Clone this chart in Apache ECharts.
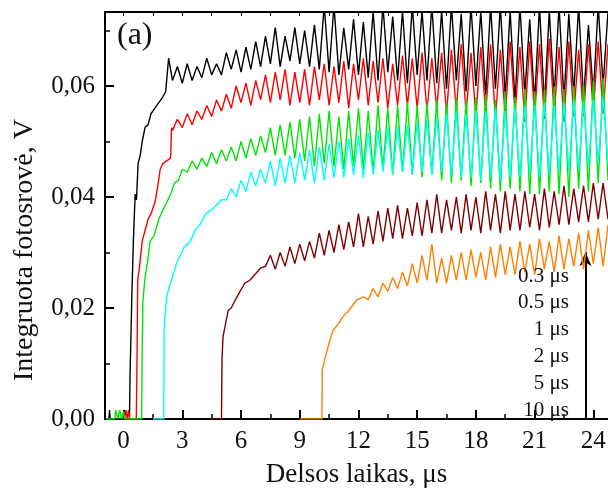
<!DOCTYPE html>
<html>
<head>
<meta charset="utf-8">
<script src="https://cdn.jsdelivr.net/npm/echarts@6/dist/echarts.min.js"></script>
<style>html,body{margin:0;padding:0;background:#fff}#c{width:608px;height:491px}</style>
</head>
<body>
<div id="c"></div>
<script>
// ---- data ----
const seriesNames = ['0.3 μs','0.5 μs','1 μs','2 μs','5 μs','10 μs'];
const xTickLabels = [0,3,6,9,12,15,18,21,24];
const yTickLabels = [0,0.02,0.04,0.06];
const gridStep = 0.25;

// 0.3 us (black)
const onset03 = [[-0.9,0],[-0.75,0],[-0.72,0.0016],[-0.68,0],[0.3,0],[0.33,0.008],[0.36,0.0124],[0.42,0.022],[0.5,0.032],[0.59,0.0405],[0.66,0.0395],[0.74,0.046],[0.85,0.0475],[0.95,0.050],[1.1,0.0526],[1.25,0.053],[1.4,0.055],[1.6,0.056],[1.8,0.057],[2.0,0.058],[2.15,0.059],[2.25,0.063],[2.3,0.065]];
const start03 = 2.5;
const vals03 = [0.061,0.0635,0.0605,0.064,0.061,0.0635,0.0615,0.065,0.062,0.064,0.062,0.066,0.063,0.0665,0.0625,0.067,0.063,0.068,0.0635,0.069,0.064,0.0705,0.0635,0.069,0.0645,0.0705,0.064,0.070,0.0635,0.071,0.063,0.0745,0.0625,0.0745,0.062,0.0705,0.063,0.072,0.062,0.0715,0.0615,0.0735,0.061,0.0745,0.0625,0.0725,0.061,0.0735,0.0605,0.0745,0.062,0.0735,0.061,0.0745,0.0605,0.0735,0.0595,0.0745,0.061,0.073,0.059,0.0745,0.060,0.0735,0.058,0.0745,0.0595,0.0745,0.058,0.0735,0.057,0.0745,0.0585,0.072,0.057,0.0745,0.0565,0.0735,0.058,0.0745,0.0575,0.073,0.0585,0.0745,0.0575,0.071,0.0585,0.0745,0.060,0.0735];

// 0.5 us (red)
const onset05 = [[0.05,0],[0.12,0.0016],[0.18,0],[0.25,0.0016],[0.3,0],[0.65,0],[0.69,0.012],[0.72,0.025],[0.8,0.027],[0.95,0.032],[1.1,0.034],[1.25,0.036],[1.4,0.037],[1.6,0.039],[1.75,0.042],[1.87,0.045],[2.0,0.046],[2.2,0.0465],[2.4,0.047],[2.45,0.0525]];
const start05 = 2.5;
const vals05 = [0.052,0.054,0.0525,0.055,0.053,0.0555,0.054,0.0565,0.0545,0.0575,0.0555,0.0585,0.056,0.060,0.057,0.0605,0.0565,0.061,0.0575,0.062,0.057,0.0625,0.0575,0.063,0.0565,0.0625,0.057,0.063,0.0565,0.0635,0.0575,0.064,0.0565,0.0635,0.057,0.0645,0.056,0.064,0.0575,0.065,0.0565,0.0645,0.057,0.065,0.056,0.064,0.0565,0.0655,0.0565,0.065,0.056,0.066,0.0555,0.065,0.056,0.066,0.055,0.0665,0.0555,0.0675,0.055,0.066,0.0545,0.067,0.055,0.0675,0.054,0.0665,0.0545,0.068,0.055,0.067,0.0535,0.068,0.0545,0.0675,0.054,0.0685,0.055,0.067,0.0535,0.068,0.0545,0.0665,0.0545,0.0675,0.0555,0.068,0.055,0.0675];

// 1 us (green)
const onset1 = [[-0.9,0],[-0.45,0],[-0.4,0.0016],[-0.3,0],[-0.2,0.0016],[-0.1,0],[0.0,0.0014],[0.05,0],[0.92,0],[0.95,0.012],[0.98,0.021],[1.1,0.0256],[1.25,0.029],[1.35,0.032],[1.55,0.033],[1.8,0.036],[2.0,0.0376],[2.2,0.039],[2.4,0.0405],[2.6,0.0425],[2.8,0.043],[3.0,0.045]];
const start1 = 3.25;
const vals1 = [0.0445,0.0465,0.045,0.047,0.0455,0.048,0.046,0.0485,0.0465,0.049,0.0465,0.050,0.047,0.0505,0.0475,0.051,0.048,0.0525,0.0475,0.053,0.0475,0.0535,0.047,0.054,0.0465,0.0545,0.0455,0.055,0.046,0.0555,0.0455,0.0545,0.045,0.0555,0.0455,0.056,0.045,0.0555,0.0445,0.0565,0.045,0.056,0.044,0.0565,0.0445,0.057,0.044,0.0565,0.0435,0.057,0.044,0.0575,0.043,0.057,0.0425,0.058,0.043,0.0575,0.042,0.058,0.0425,0.0585,0.0415,0.0575,0.041,0.059,0.0415,0.058,0.041,0.0595,0.0405,0.059,0.0405,0.0595,0.041,0.060,0.0405,0.0595,0.040,0.060,0.0415,0.0605,0.041,0.061,0.0425,0.0615,0.043];

// 2 us (cyan)
const onset2 = [[1.5,0],[2.05,0],[2.07,0.0166],[2.2,0.022],[2.35,0.024],[2.5,0.0256],[2.7,0.028],[2.9,0.0295],[3.1,0.031],[3.4,0.032],[3.65,0.034],[3.9,0.035],[4.2,0.037],[4.6,0.038],[5.0,0.0395]];
const start2 = 5.25;
const vals2 = [0.0395,0.0415,0.040,0.043,0.041,0.0445,0.042,0.045,0.0425,0.0465,0.042,0.047,0.0425,0.0475,0.0425,0.048,0.043,0.0485,0.0425,0.049,0.043,0.0495,0.0435,0.050,0.0435,0.0505,0.044,0.051,0.0435,0.0515,0.044,0.052,0.0445,0.0525,0.044,0.0525,0.0445,0.053,0.044,0.0535,0.0445,0.054,0.044,0.0545,0.0445,0.055,0.044,0.0555,0.0435,0.055,0.0435,0.0555,0.043,0.0555,0.0435,0.056,0.043,0.0555,0.0435,0.056,0.0435,0.0565,0.044,0.0565,0.0435,0.057,0.044,0.0565,0.0445,0.057,0.0445,0.0575,0.045,0.057,0.0455,0.0575,0.046,0.058,0.046];

// 5 us (dark red)
const onset5 = [[4.4,0],[5.0,0],[5.03,0.011],[5.08,0.0148],[5.2,0.017],[5.35,0.0196],[5.5,0.020],[5.7,0.0214],[5.95,0.023],[6.2,0.0245],[6.45,0.025],[6.7,0.026],[7.0,0.0272]];
const start5 = 7.25;
const vals5 = [0.0275,0.0295,0.027,0.030,0.0275,0.031,0.028,0.0315,0.0285,0.032,0.029,0.0335,0.0295,0.034,0.030,0.035,0.0305,0.0355,0.031,0.037,0.031,0.0365,0.0315,0.0375,0.032,0.038,0.0325,0.0385,0.0325,0.038,0.033,0.039,0.033,0.0395,0.0335,0.0405,0.0335,0.0395,0.034,0.040,0.0335,0.0405,0.034,0.040,0.0335,0.041,0.034,0.0405,0.0335,0.041,0.034,0.0405,0.034,0.041,0.0345,0.0405,0.034,0.0415,0.0345,0.041,0.035,0.042,0.035,0.0415,0.0355,0.042,0.0355,0.0425,0.036,0.0425,0.036];

// 10 us (orange)
const onset10 = [[9.0,0],[10.13,0],[10.15,0.0088],[10.3,0.011],[10.5,0.0137],[10.7,0.016],[10.95,0.017],[11.2,0.0184],[11.5,0.0195],[11.9,0.0214],[12.25,0.022]];
const start10 = 12.5;
const vals10 = [0.0215,0.0235,0.022,0.0245,0.023,0.0255,0.0235,0.0265,0.024,0.028,0.0245,0.0295,0.025,0.0315,0.0245,0.029,0.0245,0.0295,0.025,0.030,0.025,0.0305,0.0255,0.030,0.025,0.031,0.0255,0.0315,0.026,0.031,0.026,0.032,0.0265,0.0315,0.026,0.0325,0.027,0.032,0.0265,0.033,0.027,0.0325,0.0275,0.0335,0.027,0.034,0.028,0.0345,0.0275,0.035];

const arrowX = 23.6, arrowTop = 0.0301;

// ---- build ----
function build(onset, t0, vals){
  return onset.concat(vals.map((v,i)=>[t0 + i*gridStep, v]));
}
const colors = ['#000000','#ff0000','#00e600','#00ffff','#7f0000','#ff8000'];
const dataSets = [
  build(onset03,start03,vals03),
  build(onset05,start05,vals05),
  build(onset1,start1,vals1),
  build(onset2,start2,vals2),
  build(onset5,start5,vals5),
  build(onset10,start10,vals10)
];
const FONT = "'Liberation Serif','Times New Roman',serif";
const XMIN = -0.95, XMAX = 24.75, YMIN = 0, YMAX = 0.07333;
const minorX = []; for (let t=1.5; t<24.75; t+=3) minorX.push(t);
const topX = []; for (let t=0; t<=24.75; t+=1.5) topX.push(t);
const minorY = [0.01,0.03,0.05,0.07];

const chart = echarts.init(document.getElementById('c'), null, {renderer:'canvas'});
const series = dataSets.map((d,i)=>({
  name: seriesNames[i], type:'line', data:d, showSymbol:false, symbol:'none',
  lineStyle:{color:colors[i], width:1.4}, itemStyle:{color:colors[i]},
  animation:false, clip:true, xAxisIndex:0, yAxisIndex:0, z: 2+i
}));
series[5].markLine = {
  silent:true, animation:false, symbol:['none','arrow'], symbolSize:[9,14],
  label:{show:false}, lineStyle:{color:'#000', width:2, type:'solid'},
  data:[[{coord:[arrowX,0]},{coord:[arrowX,arrowTop]}]]
};
const legendYs = [277,303,330,357,384,411];
const graphics = seriesNames.map((n,i)=>({
  type:'text', right: 608-569, top: legendYs[i]-11, z:50,
  style:{text:n, font:"21px "+FONT, fill:'#111', textAlign:'right', textVerticalAlign:'middle'}
}));
graphics.push({type:'text', left:117, top:20, z:50, style:{text:'(a)', font:"32px "+FONT, fill:'#111'}});
graphics.push({type:'text', x:25, y:250, rotation:Math.PI/2, z:50,
  style:{text:'Integruota fotosrovė, V', font:"28px "+FONT, fill:'#111', align:'center', verticalAlign:'middle'}});

chart.setOption({
  backgroundColor:'#fff',
  animation:false,
  grid:{left:105, right:0, top:12, bottom:72, containLabel:false, outerBoundsMode:'none'},
  xAxis:[
    {type:'value', min:XMIN, max:XMAX, position:'bottom',
     name:'Delsos laikas, μs', nameLocation:'middle', nameGap:42,
     nameTextStyle:{fontFamily:FONT, fontSize:27, color:'#111'},
     axisLine:{onZero:false, lineStyle:{color:'#000', width:2}},
     axisTick:{inside:true, length:9, lineStyle:{color:'#000', width:2}, customValues:xTickLabels},
     axisLabel:{fontFamily:FONT, fontSize:25, color:'#111', margin:10, customValues:xTickLabels},
     splitLine:{show:false}},
    {type:'value', min:XMIN, max:XMAX, position:'bottom',
     axisLine:{show:false, onZero:false}, axisLabel:{show:false}, splitLine:{show:false},
     axisTick:{inside:true, length:5, lineStyle:{color:'#000', width:1.5}, customValues:minorX}},
    {type:'value', min:XMIN, max:XMAX, position:'top',
     axisLine:{onZero:false, lineStyle:{color:'#000', width:2}}, axisLabel:{show:false}, splitLine:{show:false},
     axisTick:{inside:true, length:4, lineStyle:{color:'#000', width:1}, customValues:topX}}
  ],
  yAxis:[
    {type:'value', min:YMIN, max:YMAX, position:'left',
     axisLine:{onZero:false, lineStyle:{color:'#000', width:2}},
     axisTick:{inside:true, length:9, lineStyle:{color:'#000', width:2}, customValues:yTickLabels},
     axisLabel:{fontFamily:FONT, fontSize:25, color:'#111', margin:10, customValues:yTickLabels,
       formatter:v=>v.toFixed(2).replace('.',',')},
     splitLine:{show:false}},
    {type:'value', min:YMIN, max:YMAX, position:'left',
     axisLine:{show:false, onZero:false}, axisLabel:{show:false}, splitLine:{show:false},
     axisTick:{inside:true, length:5, lineStyle:{color:'#000', width:1.5}, customValues:minorY}}
  ],
  series: series,
  graphic: graphics
});
</script>
</body>
</html>
